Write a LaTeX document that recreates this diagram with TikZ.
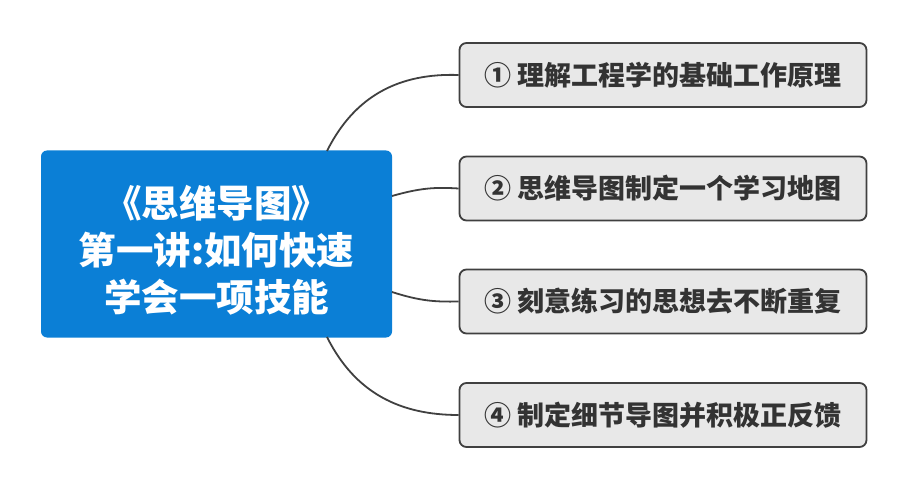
\documentclass[tikz,border=0pt]{standalone}
\usepackage{fontspec}
\setmainfont{Noto Sans CJK SC}
\tikzset{
  x=1pt,y=-1pt,
  rootbox/.style={fill=rootblue, rounded corners=6pt, minimum width=351pt, minimum height=187pt, inner sep=0pt, text=white, align=center, font=\bfseries\fontsize{37.5}{47}\selectfont},
  leafbox/.style={fill=leafgray, draw=edgegray, line width=1.8pt, rounded corners=7pt, minimum width=407pt, minimum height=64pt, inner sep=0pt, text=textgray, font=\bfseries\fontsize{27}{30}\selectfont},
  link/.style={draw=edgegray, line width=1.8pt}
}
\definecolor{rootblue}{HTML}{0B7FD6}
\definecolor{leafgray}{HTML}{E8E8E8}
\definecolor{edgegray}{HTML}{404040}
\definecolor{textgray}{HTML}{333333}
\begin{document}
\begin{tikzpicture}
\useasboundingbox (0,0) rectangle (915,478);
\node[rootbox] (root) at (216.5,244) {\rule{0pt}{45pt}《思维导图》\\第一讲:如何快速\\学会一项技能};
\node[leafbox] (b1) at (663,75) {① 理解工程学的基础工作原理};
\node[leafbox] (b2) at (663,188.5) {② 思维导图制定一个学习地图};
\node[leafbox] (b3) at (663,301.5) {③ 刻意练习的思想去不断重复};
\node[leafbox] (b4) at (663,415) {④ 制定细节导图并积极正反馈};
\coordinate (s1) at (327,151);
\coordinate (s2) at (392,196);
\coordinate (s3) at (392,292);
\coordinate (s4) at (327,337);
\draw[link] (s1) .. controls (355,95) and (400,73) .. (b1.west);
\draw[link] (s2) .. controls (420,188) and (435,187) .. (b2.west);
\draw[link] (s3) .. controls (420,301) and (435,302) .. (b3.west);
\draw[link] (s4) .. controls (355,393) and (400,415) .. (b4.west);
\end{tikzpicture}
\end{document}
